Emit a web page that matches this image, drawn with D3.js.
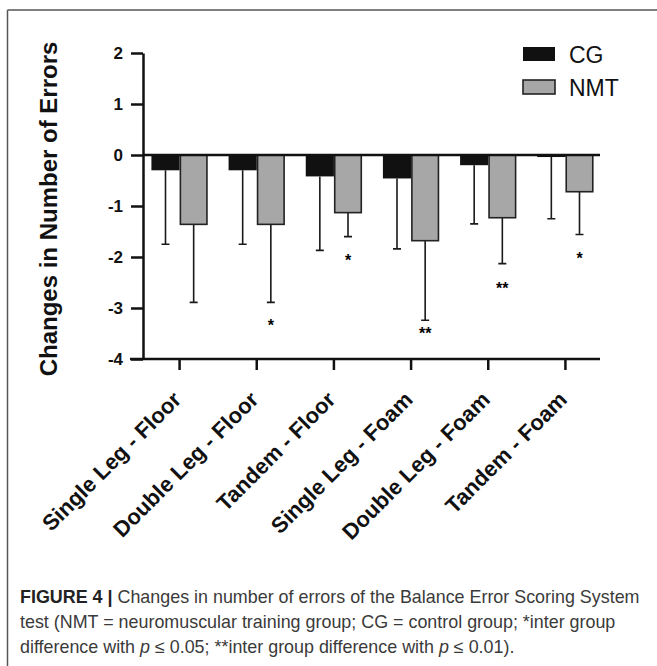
<!DOCTYPE html>
<html>
<head>
<meta charset="utf-8">
<script src="https://cdn.jsdelivr.net/npm/d3@7"></script>
<style>
  body { margin: 0; background: #fff; }
  svg { display: block; }
  text { font-family: "Liberation Sans", Arial, sans-serif; }
</style>
</head>
<body>
<svg id="chart" width="657" height="666"></svg>
<script>
// test categories
var categories = ["Single Leg - Floor", "Double Leg - Floor", "Tandem - Floor",
                  "Single Leg - Foam", "Double Leg - Foam", "Tandem - Foam"];
var groups = ["CG", "NMT"];

// mean change in errors, and the (one-sided) SD drawn below each bar
var cgMean  = [-0.30, -0.30, -0.42, -0.46, -0.20, -0.04];
var cgSD    = [ 1.45,  1.45,  1.45,  1.38,  1.15,  1.21];
var nmtMean = [-1.36, -1.36, -1.13, -1.68, -1.23, -0.72];
var nmtSD   = [ 1.53,  1.53,  0.47,  1.56,  0.90,  0.84];

// significance marks under the NMT bars (value where the mark sits)
var sigMark = ["", "*", "*", "**", "**", "*"];
var sigAt   = [null, -3.28, -2.0, -3.44, -2.54, -1.97];

var yTicks = [2, 1, 0, -1, -2, -3, -4];

var svg = d3.select("#chart");

// figure frame (cropped box: top and left edges)
svg.append("line").attr("x1", 7.5).attr("x2", 657).attr("y1", 10).attr("y2", 10)
  .attr("stroke", "#555").attr("stroke-width", 1.5);
svg.append("line").attr("x1", 7.5).attr("x2", 7.5).attr("y1", 10).attr("y2", 666)
  .attr("stroke", "#555").attr("stroke-width", 1.5);

var y = d3.scaleLinear().domain([-4, 2]).range([359, 53]);
var x = d3.scaleBand().domain(categories).range([141, 604])
  .paddingInner(0.27).paddingOuter(0.135);
var x1 = d3.scaleBand().domain(groups).range([0, x.bandwidth()]);

var colors = { CG: "#111", NMT: "#a7a7a7" };

var data = categories.map(function(c, i) {
  return {
    cat: c,
    bars: [
      { g: "CG", v: cgMean[i], sd: cgSD[i] },
      { g: "NMT", v: nmtMean[i], sd: nmtSD[i] }
    ],
    sig: sigMark[i], sigY: sigAt[i]
  };
});

var grp = svg.selectAll(".grp").data(data).enter().append("g")
  .attr("class", "grp")
  .attr("transform", function(d) { return "translate(" + x(d.cat) + ",0)"; });

// error bars first so the bars sit on top
grp.selectAll(".err").data(function(d) { return d.bars; }).enter().append("path")
  .attr("class", "err")
  .attr("fill", "none").attr("stroke", "#1a1a1a").attr("stroke-width", 1.6)
  .attr("d", function(b) {
    var cx = x1(b.g) + x1.bandwidth() / 2;
    var y0 = y(b.v), y1 = y(b.v - b.sd);
    return "M" + cx + "," + y0 + "V" + y1 + "M" + (cx - 4) + "," + y1 + "H" + (cx + 4);
  });

grp.selectAll("rect").data(function(d) { return d.bars; }).enter().append("rect")
  .attr("x", function(b) { return x1(b.g) + (b.g == "NMT" ? 0.8 : 0); })
  .attr("width", function(b) { return x1.bandwidth() - (b.g == "NMT" ? 1.6 : 0); })
  .attr("y", y(0))
  .attr("height", function(b) { return y(b.v) - y(0); })
  .attr("fill", function(b) { return colors[b.g]; })
  .attr("stroke", function(b) { return b.g == "NMT" ? "#222" : "none"; })
  .attr("stroke-width", 1.6);

grp.filter(function(d) { return d.sig; }).append("text")
  .attr("x", x1("NMT") + x1.bandwidth() / 2)
  .attr("y", function(d) { return y(d.sigY) + 9; })
  .attr("text-anchor", "middle")
  .style("font-size", "16px").style("font-weight", "bold")
  .text(function(d) { return d.sig; });

// zero line
svg.append("line").attr("x1", 143).attr("x2", 600)
  .attr("y1", y(0)).attr("y2", y(0))
  .attr("stroke", "#111").attr("stroke-width", 2.5);

// y axis
var yAxis = svg.append("g").attr("transform", "translate(143,0)")
  .call(d3.axisLeft(y).tickValues(yTicks).tickSize(12).tickSizeOuter(0).tickPadding(8)
    .tickFormat(function(d) { return d < 0 ? "-" + (-d) : d; }));
yAxis.selectAll("path, line").attr("stroke", "#111").attr("stroke-width", 2.5);
yAxis.selectAll("text").attr("fill", "#111")
  .style("font-size", "17px").style("font-weight", "bold")
  .style("font-family", "'Liberation Sans', Arial, sans-serif");

// x axis
var xAxis = svg.append("g").attr("transform", "translate(0,359)")
  .call(d3.axisBottom(x).tickSize(11).tickSizeOuter(0));
xAxis.select(".domain").remove();
xAxis.append("line").attr("x1", 130).attr("x2", 600)
  .attr("stroke", "#111").attr("stroke-width", 2.5);
xAxis.selectAll(".tick line").attr("stroke", "#111").attr("stroke-width", 2.5);
xAxis.selectAll(".tick text")
  .attr("fill", "#111")
  .attr("text-anchor", "end")
  .attr("transform", "translate(3,42) rotate(-45)")
  .attr("y", 0).attr("dy", 0)
  .style("font-size", "22px").style("font-weight", "bold")
  .style("font-family", "'Liberation Sans', Arial, sans-serif");

// y axis title
svg.append("text")
  .attr("transform", "translate(57,209) rotate(-90)")
  .attr("text-anchor", "middle")
  .attr("fill", "#111")
  .style("font-size", "24px").style("font-weight", "bold")
  .text("Changes in Number of Errors");

// legend
var legend = svg.selectAll(".legend").data(groups).enter().append("g")
  .attr("class", "legend")
  .attr("transform", function(d, i) { return "translate(523," + (47 + i * 33) + ")"; });
legend.append("rect")
  .attr("width", 32).attr("height", 14)
  .attr("fill", function(d) { return colors[d]; })
  .attr("stroke", function(d) { return d == "NMT" ? "#222" : "none"; })
  .attr("stroke-width", 1.6);
legend.append("text")
  .attr("x", 46).attr("y", 16)
  .attr("fill", "#111")
  .style("font-size", "23px")
  .text(function(d) { return d; });

// caption
var caption = svg.append("text").attr("x", 20).attr("fill", "#3a3a3a")
  .style("font-size", "17.9px");
var l1 = caption.append("tspan").attr("x", 20).attr("y", 603);
l1.append("tspan").style("font-weight", "bold").attr("fill", "#222").text("FIGURE 4 | ");
l1.append("tspan").text("Changes in number of errors of the Balance Error Scoring System");
caption.append("tspan").attr("x", 20).attr("y", 628)
  .text("test (NMT = neuromuscular training group; CG = control group; *inter group");
var l3 = caption.append("tspan").attr("x", 20).attr("y", 653);
l3.append("tspan").text("difference with ");
l3.append("tspan").style("font-style", "italic").text("p");
l3.append("tspan").text(" \u2264 0.05; **inter group difference with ");
l3.append("tspan").style("font-style", "italic").text("p");
l3.append("tspan").text(" \u2264 0.01).");
</script>
</body>
</html>
